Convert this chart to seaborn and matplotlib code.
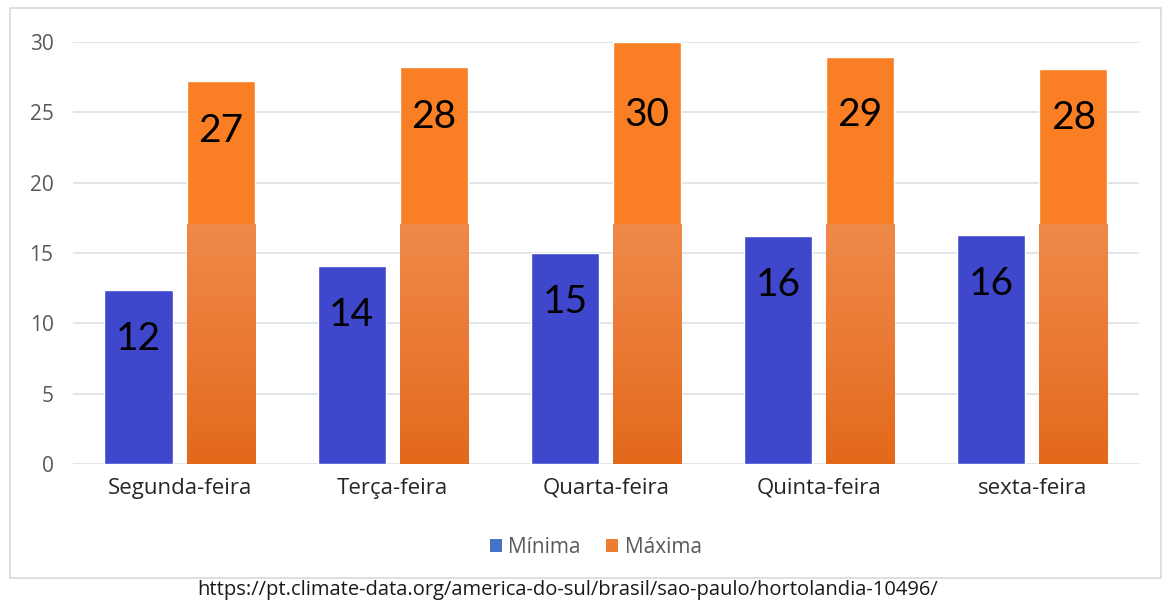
import matplotlib
matplotlib.use("Agg")
import matplotlib.pyplot as plt
import seaborn as sns
import numpy as np
import pandas as pd
from matplotlib.patches import Rectangle, Patch
from matplotlib.colors import LinearSegmentedColormap

# ---- data ----
days = ["Segunda-feira", "Terça-feira", "Quarta-feira", "Quinta-feira", "sexta-feira"]
minima = [12.4, 14.1, 15.0, 16.2, 16.3]
maxima = [27.2, 28.2, 30.0, 28.9, 28.1]
series_names = ["Mínima", "Máxima"]
y_ticks = [0, 5, 10, 15, 20, 25, 30]
source_url = "https://pt.climate-data.org/america-do-sul/brasil/sao-paulo/hortolandia-10496/"

df = pd.DataFrame({
    "dia": days * 2,
    "serie": [series_names[0]] * len(days) + [series_names[1]] * len(days),
    "temp": minima + maxima,
})

sns.set_theme(style="white")
plt.rcParams["font.family"] = ["Open Sans", "DejaVu Sans"]

fig = plt.figure(figsize=(11.68, 6.0), dpi=100)
ax = fig.add_axes([0.0625, 0.2267, 0.9125, 0.7033])

blue = "#3F48CC"
orange = "#FA7E23"
sns.barplot(data=df, x="dia", y="temp", hue="serie", order=days,
            hue_order=series_names, palette={series_names[0]: blue, series_names[1]: orange},
            width=0.77, gap=0.17, legend=False, ax=ax, saturation=1, zorder=2)

# gradient on lower part of orange bars
cmap = LinearSegmentedColormap.from_list("og", ["#E3691A", "#EA7A34", "#EF8949"])
grad = np.linspace(0, 1, 256).reshape(-1, 1)
for patch in ax.containers[1]:
    x0 = patch.get_x()
    w = patch.get_width()
    im = ax.imshow(grad, extent=[x0, x0 + w, 0, 17], origin="lower", cmap=cmap,
                   aspect="auto", zorder=2.5, interpolation="bicubic")
    im.set_clip_path(patch)
ax.set_ylim(0, 30)
ax.set_xlim(-0.5, len(days) - 0.5)

# value labels
for ci, cont in enumerate(ax.containers):
    vals = minima if ci == 0 else maxima
    for patch, v in zip(cont, vals):
        cx = patch.get_x() + patch.get_width() / 2
        ty = v - 3.5 if ci == 0 else min(v - 3.5, 24.8)
        ax.text(cx, ty, f"{round(v)}", ha="center", va="center", fontsize=28,
                color="black", family=["Lato", "DejaVu Sans"], zorder=5)

# axes styling
ax.set_yticks(y_ticks)
ax.yaxis.grid(True, color="#DCE0E6", linewidth=1.2, zorder=0)
ax.set_axisbelow(True)
for s in ax.spines.values():
    s.set_visible(False)
ax.set_xlabel("")
ax.set_ylabel("")
ax.tick_params(axis="y", length=0, pad=14, labelsize=15, labelcolor="#595959")
ax.tick_params(axis="x", length=0, pad=10, labelsize=16, labelcolor="#262626")

# legend with Excel-style colors
handles = [Patch(facecolor="#4472C4", edgecolor="none"),
           Patch(facecolor="#ED7D31", edgecolor="none")]
fig.legend(handles, series_names, loc="center", bbox_to_anchor=(0.51, 0.088), ncol=2,
           frameon=False, fontsize=15, labelcolor="#595959", handlelength=0.6,
           handleheight=0.6, handletextpad=0.3, columnspacing=1.2)

# chart border
fig.add_artist(Rectangle((0.0086, 0.037), 0.985, 0.95, transform=fig.transFigure,
                         fill=False, edgecolor="#D9D9D9", linewidth=1.2))

fig.text(0.486, 0.017, source_url, ha="center", va="center", fontsize=14.5, color="#1a1a1a")

fig.savefig("out.png", dpi=100)
